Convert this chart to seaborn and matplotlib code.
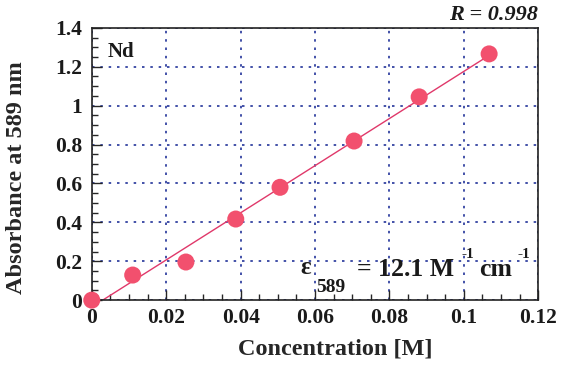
import numpy as np
import pandas as pd
import seaborn as sns
import matplotlib
matplotlib.use("Agg")
import matplotlib.pyplot as plt
from matplotlib.ticker import MultipleLocator, FuncFormatter

# values
concentration = [0.0, 0.011, 0.0253, 0.0387, 0.0506, 0.0705, 0.088, 0.1068]
absorbance = [0.0, 0.129, 0.196, 0.417, 0.58, 0.818, 1.045, 1.266]
x_ticks = [0, 0.02, 0.04, 0.06, 0.08, 0.1, 0.12]
y_ticks = [0, 0.2, 0.4, 0.6, 0.8, 1, 1.2, 1.4]

df = pd.DataFrame({"conc": concentration, "abs": absorbance})

sns.set_style("ticks")
plt.rcParams["font.family"] = ["Liberation Serif", "DejaVu Serif"]
plt.rcParams["font.weight"] = "bold"
plt.rcParams["text.color"] = "#1a1a1a"

W, H = 563, 371
fig = plt.figure(figsize=(W / 100, H / 100), dpi=100)
ax = fig.add_axes([0.163, 0.191, 0.793, 0.734])


def px(x, y):
    # pixel position -> figure fraction
    return x / W, 1 - y / H


# fitted line first, then the dots on top
sns.regplot(data=df, x="conc", y="abs", ax=ax, ci=None, scatter=False,
            truncate=True, line_kws=dict(color="#e0386a", lw=1.0))
sns.scatterplot(data=df, x="conc", y="abs", ax=ax, s=150, color="#f2506e",
                edgecolor="none", zorder=3, clip_on=False)

ax.set_xlim(0, 0.12)
ax.set_ylim(0, 1.4)
ax.set_xticks(x_ticks)
ax.set_yticks(y_ticks)
ax.xaxis.set_minor_locator(MultipleLocator(0.005))
ax.yaxis.set_minor_locator(MultipleLocator(0.05))
fmt = FuncFormatter(lambda v, p: "%g" % round(v, 3))
ax.xaxis.set_major_formatter(fmt)
ax.yaxis.set_major_formatter(fmt)
ax.tick_params(which="both", direction="in", top=False, right=False,
               labelsize=15.5, width=1, labelcolor="#1a1a1a")
ax.tick_params(which="major", length=7)
ax.tick_params(which="minor", length=4)
ax.tick_params(axis="x", pad=6)
ax.tick_params(axis="y", pad=7)
for lab in ax.get_xticklabels() + ax.get_yticklabels():
    lab.set_fontweight("bold")

ax.grid(True, which="major", color="#22349a", linestyle=(0, (1.5, 3.5)), lw=1.2)
for s in ax.spines.values():
    s.set_linewidth(1.2)
    s.set_color("#222222")

ax.set_xlabel("Concentration [M]", fontsize=17.5, fontweight="bold")
ax.set_ylabel("Absorbance at 589 nm", fontsize=17.5, fontweight="bold")
ax.xaxis.set_label_coords(0.545, -0.14)
ax.yaxis.set_label_coords(-0.146, 0.45)

fig.text(*px(108, 52), "Nd", fontsize=15, fontweight="bold", va="center")
fig.text(*px(538, 15), "R = 0.998", ha="right", va="center", fontsize=16,
         fontweight="bold", style="italic")

# epsilon annotation
fig.text(*px(300, 268), "\u03b5", fontsize=18, fontweight="bold", va="center")
fig.text(*px(316, 287), "589", fontsize=14, va="center")
fig.text(*px(357, 269), "= 12.1 M", fontsize=18.5, fontweight="bold", va="center")
fig.text(*px(461, 254), "-1", fontsize=11, fontweight="bold", va="center")
fig.text(*px(479, 269), "cm", fontsize=18.5, fontweight="bold", va="center")
fig.text(*px(517, 254), "-1", fontsize=11, fontweight="bold", va="center")

fig.savefig("out.png", dpi=100)
